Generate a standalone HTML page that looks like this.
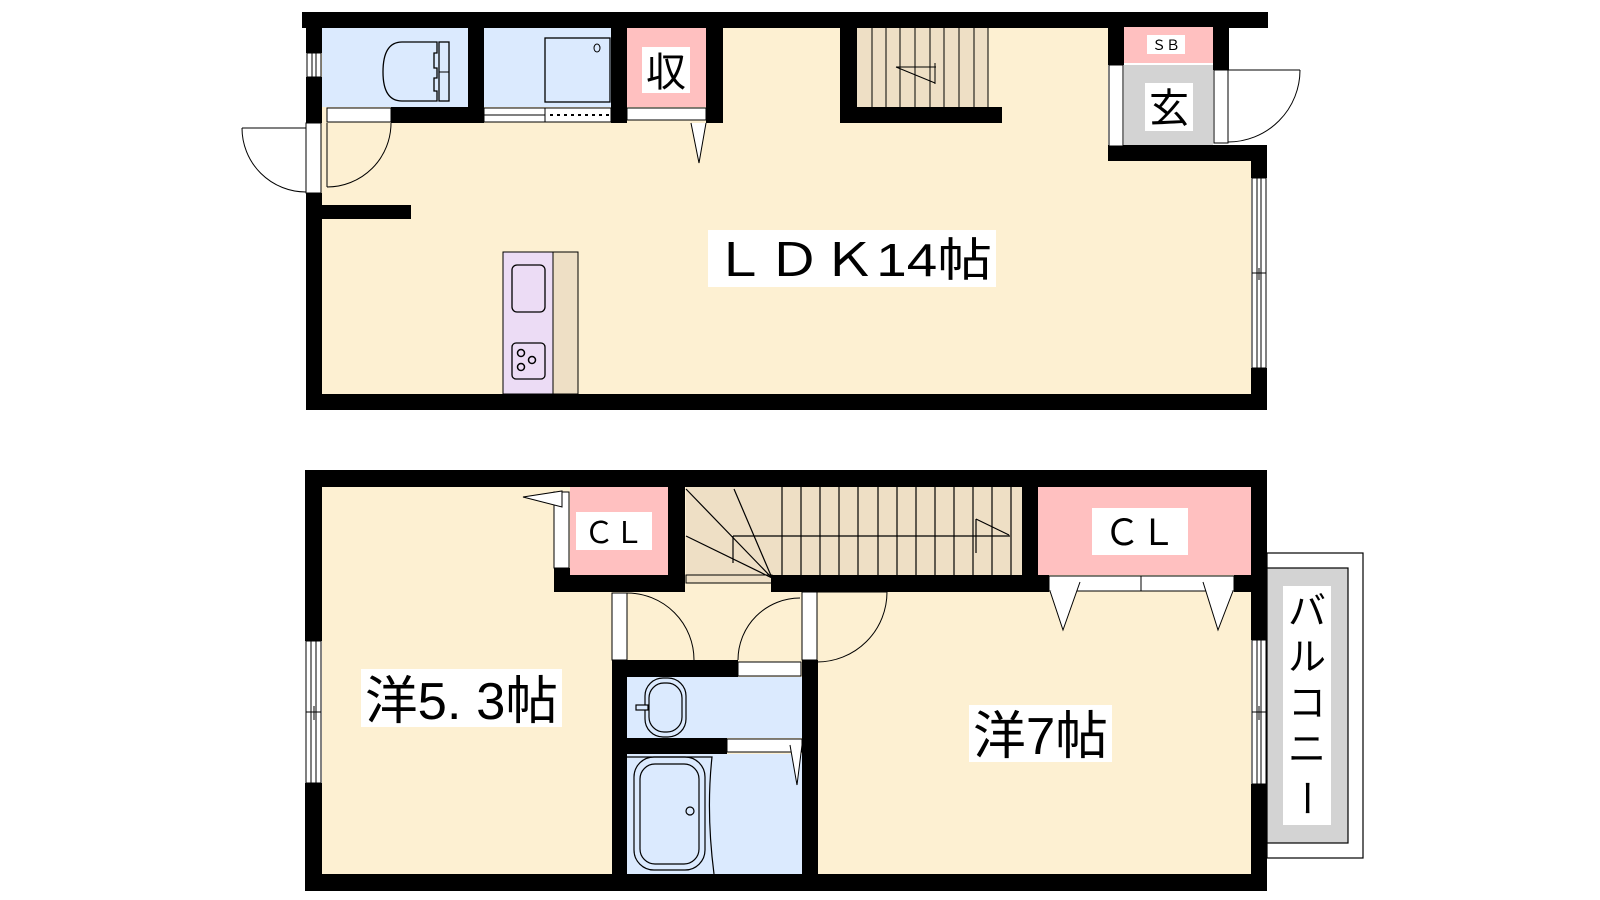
<!DOCTYPE html>
<html><head><meta charset="utf-8"><style>
html,body{margin:0;padding:0;background:#fff;}
svg{display:block;}
text{font-family:"Liberation Sans","Noto Sans CJK JP",sans-serif;fill:#000;}
</style></head><body>
<svg width="1600" height="900" viewBox="0 0 1600 900" xmlns="http://www.w3.org/2000/svg">
<!-- ============ TOP FLOOR ============ -->
<polygon points="321,27 1108,27 1108,161 1251,161 1251,394 321,394" fill="#fdf0d2"/>
<!-- toilet -->
<rect x="322" y="28" width="146" height="79" fill="#dbeafe"/>
<path d="M437,42 H402 Q383,42 383,72 Q383,101 402,101 H437 V91 H434 V78 H437 V68 H434 V53 H437 Z" fill="none" stroke="#000" stroke-width="1.3"/>
<rect x="439" y="42" width="10" height="59" fill="none" stroke="#000" stroke-width="1.3"/>
<line x1="439" y1="72" x2="449" y2="72" stroke="#000"/>
<!-- washer -->
<rect x="484" y="28" width="127" height="79" fill="#dbeafe"/>
<rect x="545" y="38" width="65" height="64" fill="none" stroke="#000" stroke-width="1.3"/>
<ellipse cx="597" cy="48" rx="3" ry="4" fill="none" stroke="#000"/>
<!-- 収 -->
<rect x="627" y="28" width="79" height="79" fill="#ffc0c0"/>
<rect x="642" y="47" width="48" height="46" fill="#fff"/>
<text x="666" y="86" font-size="40" text-anchor="middle">収</text>
<!-- stairs top -->
<rect x="857" y="28" width="131" height="79" fill="#eedfc5"/>
<g stroke="#000" stroke-width="1">
<line x1="872" y1="28" x2="872" y2="107"/><line x1="886" y1="28" x2="886" y2="107"/><line x1="900" y1="28" x2="900" y2="107"/><line x1="915" y1="28" x2="915" y2="107"/><line x1="930" y1="28" x2="930" y2="107"/><line x1="944" y1="28" x2="944" y2="107"/><line x1="959" y1="28" x2="959" y2="107"/><line x1="974" y1="28" x2="974" y2="107"/><line x1="988" y1="28" x2="988" y2="107"/>
<line x1="896" y1="67" x2="936" y2="67"/><line x1="935" y1="63" x2="935" y2="84"/><line x1="896" y1="67" x2="935" y2="83"/>
</g>
<!-- kitchen -->
<rect x="503" y="252" width="50" height="142" fill="#ecdcf5" stroke="#000" stroke-width="1"/>
<rect x="553" y="252" width="25" height="142" fill="#eedfc5" stroke="#000" stroke-width="1"/>
<rect x="512" y="265" width="33" height="47" rx="5" fill="none" stroke="#000" stroke-width="1.3"/>
<rect x="512" y="343" width="33" height="36" rx="4" fill="none" stroke="#000" stroke-width="1.3"/>
<g fill="none" stroke="#000" stroke-width="1.5"><circle cx="521" cy="353" r="3.5"/><circle cx="532" cy="360" r="3.5"/><circle cx="521" cy="367" r="3.5"/></g>
<!-- walls top -->
<g fill="#000">
<rect x="302" y="12" width="966" height="16"/>
<rect x="306" y="12" width="16" height="41"/>
<rect x="306" y="77" width="16" height="46"/>
<rect x="306" y="193" width="16" height="217"/>
<rect x="321" y="205" width="90" height="14"/>
<rect x="391" y="107" width="93" height="16"/>
<rect x="468" y="12" width="16" height="111"/>
<rect x="611" y="12" width="16" height="111"/>
<rect x="706" y="12" width="17" height="111"/>
<rect x="840" y="12" width="17" height="111"/>
<rect x="840" y="107" width="162" height="16"/>
<rect x="1108" y="12" width="16" height="53"/>
<rect x="1213" y="12" width="16" height="58"/>
<rect x="1108" y="145" width="159" height="16"/>
<rect x="1251" y="145" width="16" height="33"/>
<rect x="1251" y="368" width="16" height="42"/>
<rect x="306" y="394" width="961" height="16"/>
</g>
<!-- top strips / windows / doors -->
<g fill="#fff" stroke="#000" stroke-width="1">
<rect x="307" y="53" width="14" height="24"/>
<line x1="312" y1="53" x2="312" y2="77"/><line x1="316" y1="53" x2="316" y2="77"/>
<rect x="327" y="108" width="64" height="14"/>
<rect x="484" y="108" width="127" height="14"/>
<rect x="627" y="108" width="79" height="12"/>
<rect x="306" y="123" width="15" height="70"/>
<rect x="1109" y="65" width="14" height="81"/>
<rect x="1214" y="70" width="14" height="73"/>
<rect x="1252" y="178" width="14" height="190"/>
</g>
<g stroke="#000" stroke-width="1" fill="none">
<line x1="484" y1="115" x2="545" y2="115"/><line x1="545" y1="108" x2="545" y2="122"/>
<line x1="550" y1="115" x2="610" y2="115" stroke-dasharray="3,4" stroke-width="2"/>
<line x1="1257" y1="178" x2="1257" y2="368"/><line x1="1261" y1="178" x2="1261" y2="368"/>
<line x1="1252" y1="273" x2="1266" y2="273"/><line x1="1259" y1="268" x2="1259" y2="280"/>
<line x1="327" y1="123" x2="327" y2="187"/>
<path d="M391,123 A64,64 0 0 1 327,187"/>
<line x1="242" y1="128" x2="306" y2="128"/>
<path d="M242,128 A64,64 0 0 0 306,192"/>
<line x1="1228" y1="70" x2="1300" y2="70"/>
<path d="M1300,70 A72,72 0 0 1 1228,142"/>
<path d="M691,123 L699,163 L706,123" fill="#fff"/>
</g>
<!-- SB / 玄 -->
<rect x="1124" y="27" width="89" height="36" fill="#ffc0c0"/>
<rect x="1147" y="35" width="38" height="19" fill="#fff"/>
<text x="1166" y="50" font-size="14" text-anchor="middle">ＳＢ</text>
<rect x="1124" y="65" width="89" height="80" fill="#d3d3d3"/>
<rect x="1145" y="83" width="48" height="48" fill="#fff"/>
<text x="1169" y="122" font-size="40" text-anchor="middle">玄</text>
<!-- LDK label -->
<rect x="708" y="230" width="288" height="57" fill="#fff"/>
<text x="712" y="276" font-size="46" textLength="280" lengthAdjust="spacingAndGlyphs">ＬＤＫ14帖</text>

<!-- ============ BOTTOM FLOOR ============ -->
<rect x="322" y="487" width="929" height="387" fill="#fdf0d2"/>
<!-- left CL -->
<rect x="570" y="487" width="98" height="88" fill="#ffc0c0"/>
<rect x="576" y="512" width="76" height="38" fill="#fff"/>
<text x="614" y="543" font-size="30" text-anchor="middle">ＣＬ</text>
<!-- stairs -->
<rect x="686" y="487" width="336" height="88" fill="#eedfc5"/>
<rect x="686" y="575" width="86" height="8" fill="#eedfc5" stroke="#000" stroke-width="1"/>
<g stroke="#000" stroke-width="1.2" fill="none">
<line x1="782" y1="487" x2="782" y2="575"/><line x1="801" y1="487" x2="801" y2="575"/><line x1="820" y1="487" x2="820" y2="575"/><line x1="839" y1="487" x2="839" y2="575"/><line x1="858" y1="487" x2="858" y2="575"/><line x1="878" y1="487" x2="878" y2="575"/><line x1="897" y1="487" x2="897" y2="575"/><line x1="916" y1="487" x2="916" y2="575"/><line x1="935" y1="487" x2="935" y2="575"/><line x1="954" y1="487" x2="954" y2="575"/><line x1="973" y1="487" x2="973" y2="575"/><line x1="992" y1="487" x2="992" y2="575"/><line x1="1011" y1="487" x2="1011" y2="575"/>
<line x1="772" y1="578" x2="686" y2="489"/><line x1="772" y1="578" x2="734" y2="489"/><line x1="772" y1="578" x2="686" y2="536"/>
<line x1="733" y1="536" x2="1010" y2="536"/><line x1="733" y1="536" x2="733" y2="563"/>
<line x1="976" y1="519" x2="976" y2="553"/><line x1="976" y1="519" x2="1009" y2="535"/>
</g>
<!-- right CL -->
<rect x="1038" y="487" width="213" height="88" fill="#ffc0c0"/>
<rect x="1092" y="508" width="96" height="47" fill="#fff"/>
<text x="1140" y="545" font-size="36" text-anchor="middle">ＣＬ</text>
<!-- bath area -->
<rect x="627" y="677" width="175" height="61" fill="#dbeafe"/>
<rect x="627" y="754" width="175" height="120" fill="#dbeafe"/>
<g stroke="#000" stroke-width="1.2" fill="none">
<rect x="645" y="678" width="41" height="59" rx="18"/>
<rect x="649" y="683" width="33" height="49" rx="15"/>
<rect x="636" y="705" width="12" height="5" fill="#dbeafe"/>
<path d="M627,757 H712 Q706,812 714,874"/>
<rect x="634" y="757" width="71" height="113" rx="20"/>
<rect x="640" y="764" width="59" height="100" rx="15"/>
<circle cx="690" cy="811" r="4"/>
</g>
<!-- walls bottom -->
<g fill="#000">
<rect x="305" y="470" width="962" height="17"/>
<rect x="305" y="470" width="17" height="171"/>
<rect x="305" y="783" width="17" height="108"/>
<rect x="305" y="874" width="962" height="17"/>
<rect x="1251" y="470" width="16" height="170"/>
<rect x="1251" y="784" width="16" height="107"/>
<rect x="554" y="575" width="131" height="17"/>
<rect x="554" y="568" width="16" height="8"/>
<rect x="668" y="470" width="17" height="122"/>
<rect x="771" y="575" width="278" height="17"/>
<rect x="1022" y="470" width="16" height="122"/>
<rect x="1234" y="575" width="17" height="17"/>
<rect x="612" y="660" width="15" height="231"/>
<rect x="612" y="660" width="126" height="17"/>
<rect x="802" y="660" width="16" height="231"/>
<rect x="612" y="738" width="115" height="16"/>
</g>
<g fill="#fff" stroke="#000" stroke-width="1">
<rect x="554" y="492" width="15" height="76"/>
<rect x="1049" y="576" width="185" height="15"/>
<line x1="1141" y1="576" x2="1141" y2="591"/>
<rect x="738" y="662" width="63" height="14"/>
<rect x="727" y="739" width="75" height="13"/>
<rect x="612" y="593" width="15" height="67"/>
<rect x="802" y="592" width="15" height="68"/>
<rect x="306" y="641" width="15" height="142"/>
<rect x="1252" y="640" width="14" height="144"/>
</g>
<g stroke="#000" stroke-width="1" fill="none">
<line x1="311" y1="641" x2="311" y2="783"/><line x1="316" y1="641" x2="316" y2="783"/>
<line x1="306" y1="712" x2="321" y2="712"/><line x1="314" y1="706" x2="314" y2="720"/>
<line x1="1257" y1="640" x2="1257" y2="784"/><line x1="1261" y1="640" x2="1261" y2="784"/>
<line x1="1252" y1="712" x2="1266" y2="712"/><line x1="1259" y1="706" x2="1259" y2="720"/>
<path d="M627,593 A67,67 0 0 1 694,660"/>
<path d="M738,660 A62,62 0 0 1 800,598"/>
<line x1="817" y1="592" x2="887" y2="592"/>
<path d="M887,592 A70,70 0 0 1 817,662"/>
<path d="M523,497 L562,491 L562,507 Z" fill="#fff"/>
<path d="M1050,591 L1063,630 L1080,582" fill="#fff"/>
<path d="M1203,582 L1218,630 L1233,591" fill="#fff"/>
<path d="M790,745 L797,785 L802,745" fill="#fff"/>
</g>
<!-- labels -->
<rect x="361" y="669" width="201" height="58" fill="#fff"/>
<text x="365" y="719" font-size="52" textLength="193" lengthAdjust="spacingAndGlyphs">洋5. 3帖</text>
<rect x="969" y="705" width="143" height="57" fill="#fff"/>
<text x="973" y="754" font-size="52" textLength="135" lengthAdjust="spacingAndGlyphs">洋7帖</text>
<!-- balcony -->
<rect x="1267" y="553" width="96" height="305" fill="#fff" stroke="#000" stroke-width="1.2"/>
<rect x="1267" y="568" width="81" height="275" fill="#d3d3d3" stroke="#000" stroke-width="1.2"/>
<rect x="1283" y="586" width="48" height="239" fill="#fff"/>
<g font-size="38" text-anchor="middle">
<text x="1307" y="624">バ</text>
<text x="1307" y="670">ル</text>
<text x="1307" y="716">コ</text>
<text x="1307" y="762">ニ</text>
<text x="1307" y="812" transform="rotate(90 1307 798)">ー</text>
</g>
</svg>
</body></html>
